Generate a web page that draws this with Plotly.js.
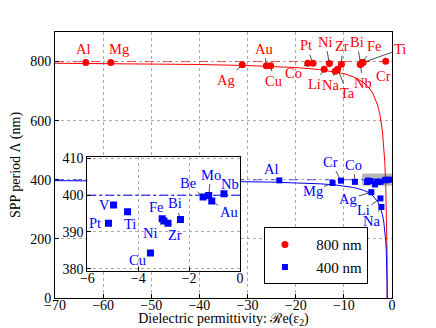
<!DOCTYPE html>
<html>
<head>
<meta charset="utf-8">
<script src="https://cdn.plot.ly/plotly-3.0.1.min.js"></script>
<style>html,body{margin:0;padding:0;background:#fff;}#chart{width:436px;height:328px;}</style>
</head>
<body>
<div id="chart"></div>
<script>
// ---- data ----
const metals800 = ['Al','Mg','Ag','Au','Cu','Co','Pt','Ni','Li','Na','Ta','Zr','Bi','Nb','Fe','Ti','Cr'];
const eps800    = [-63.6,-58.4,-31.1,-26.1,-25.2,-17.5,-16.4,-13.0,-14.1,-11.8,-11.3,-10.5,-6.5,-6.6,-6.2,-6.0,-1.3];
const period800 = [797,797,789,786,786,794,794,793,774,767,774,791,792,790,797,797,801];

const metals400 = ['Al','Mg','Cr','Co','Ag','Li','Na','V','Pt','Ti','Fe','Ni','Zr','Bi','Cu','Be','Mo','Au','Nb'];
const eps400    = [-23.4,-12.35,-10.6,-7.7,-4.3,-2.4,-2.2,-4.97,-5.17,-4.42,-3.06,-2.99,-2.83,-2.34,-3.52,-1.45,-1.23,-1.11,-0.63];
const period400 = [398,389,397,393,358,337,308,397.3,392.4,395.5,393.6,393.0,392.4,393.4,384.3,399.5,399.9,398.4,400.4];

// theoretical SPP period curves
const curveEps  = [-70,-60,-50,-40,-30,-25,-20,-15,-12,-10,-8,-6,-5,-4,-3,-2.5,-2,-1.7,-1.5,-1.3,-1.2,-1.1,-1.05,-1.02,-1.0];
const curve800  = [794.3,793.3,792,790,786.5,784,779.7,772.9,766,759,748,730,715.5,693,653,620,566,513,462,384,327,241,174.6,112,0];
const curve400  = [397,396.7,396,395,393.3,392,390,386.4,383,379.5,374,365,357.8,346.4,326.6,310,283,256.6,231,192,163,120.6,87.3,56,0];
const refLambda = [800, 400];
const legendNames = ['800 nm', '400 nm'];
const xTicks = [-70,-60,-50,-40,-30,-20,-10,0];
const yTicks = [0,200,400,600,800];
const insetXTicks = [-6,-4,-2,0];
const insetYTicks = [380,390,400,410];
const zoomBox = {x0:-6.2, x1:0, y0:380, y1:421};

// ---- label placement (pixel offsets text-centre minus point, line flag) ----
const lab800 = {Al:[-2,-13,0],Mg:[8,-13,0],Ag:[-16,15,1],Au:[-2,-17,1],Cu:[3,15,1],Co:[-14,10,1],
  Pt:[-7,-18,1],Ni:[-4,-22,1],Li:[-10,15,1],Na:[-5,14,1],Ta:[10,24,1],Zr:[1,-18,1],Bi:[-4,-22,1],
  Nb:[3,18,1],Fe:[12,-16,1],Ti:[37,-13,1],Cr:[-2,15,0]};
const lab400 = {Al:[-8,-11,0],Mg:[-20,8,1],Cr:[-10,-19,1],Co:[-1,-17,1],Ag:[-23,7,1],Li:[-17,12,1],Na:[-10,14,1]};
const labInset = {V:[-9,0,0],Pt:[-13,0,0],Ti:[2,12,0],Fe:[-6,-12,0],Ni:[-13,12,1],Zr:[7,12,1],Bi:[-5,-16,1],
  Cu:[-13,7,0],Be:[-15,-14,1],Mo:[2,-21,1],Au:[17,11,1],Nb:[6,-10,0]};

const RED = '#ff0000', BLUE = '#0000ff';
const FONT = '"Liberation Serif", "Times New Roman", serif';

const traces = [
  {x: curveEps, y: curve800, mode:'lines', line:{color:RED, width:1}, showlegend:false, hoverinfo:'skip'},
  {x: curveEps, y: curve400, mode:'lines', line:{color:BLUE, width:1}, showlegend:false, hoverinfo:'skip'},
  {x: [-70, 0], y: [refLambda[0], refLambda[0]], mode:'lines', line:{color:'rgba(255,0,0,0.6)', width:1, dash:'dash'}, showlegend:false},
  {x: [-70, 0], y: [refLambda[1], refLambda[1]], mode:'lines', line:{color:'rgba(0,0,255,0.6)', width:1, dash:'dash'}, showlegend:false},
  {x: eps800, y: period800, mode:'markers', name:'\u00a0\u00a0\u00a0' + legendNames[0], marker:{color:RED, symbol:'circle', size:7}},
  {x: eps400, y: period400, mode:'markers', name:'\u00a0\u00a0\u00a0' + legendNames[1], marker:{color:BLUE, symbol:'square', size:6}},
  // inset
  {x: [-6, 0], y: [refLambda[1], refLambda[1]], xaxis:'x2', yaxis:'y2', mode:'lines', line:{color:BLUE, width:1, dash:'dashdot'}, showlegend:false},
  {x: eps400, y: period400, xaxis:'x2', yaxis:'y2', mode:'markers', showlegend:false, marker:{color:BLUE, symbol:'square', size:7}}
];

const annotations = [];
function addLabels(names, xs, ys, table, color, xref, yref) {
  names.forEach((n, i) => {
    const o = table[n];
    if (!o) return;
    annotations.push({x: xs[i], y: ys[i], xref: xref, yref: yref, text: n, showarrow: true,
      ax: o[0], ay: o[1], arrowhead: 0, arrowwidth: 0.8, standoff: 3,
      arrowcolor: o[2] ? '#222' : 'rgba(0,0,0,0)',
      font: {color: color, size: 14.5, family: FONT}});
  });
}
addLabels(metals800, eps800, period800, lab800, RED, 'x', 'y');
addLabels(metals400, eps400, period400, lab400, BLUE, 'x', 'y');
addLabels(metals400, eps400, period400, labInset, BLUE, 'x2', 'y2');

const axisCommon = {showline:true, linecolor:'#000', linewidth:1, mirror:true, ticks:'inside', ticklen:4,
  tickcolor:'#000', zeroline:false, showgrid:true, gridcolor:'#aaa', griddash:'dot', gridwidth:1,
  tickfont:{size:14, family:FONT, color:'#000'}};

const layout = {
  width:436, height:328, margin:{l:55, r:44, t:32, b:30},
  paper_bgcolor:'#fff', plot_bgcolor:'#fff',
  font:{family:FONT, size:14, color:'#000'},
  xaxis: Object.assign({}, axisCommon, {range:[-70,0], tickvals:xTicks, ticktext:xTicks.map(v=>v<0?'\u2212'+(-v):''+v),
    ticklabelstandoff:-6,
    title:{text:'Dielectric permittivity: \u211Be(\u03B5<sub>2</sub>)', font:{size:14, family:FONT}, standoff:4}}),
  yaxis: Object.assign({}, axisCommon, {range:[0,900], tickvals:yTicks,
    title:{text:'SPP period \u039B (nm)', font:{size:14, family:FONT}, standoff:6}}),
  xaxis2: Object.assign({}, axisCommon, {domain:[0.096,0.549], anchor:'y2', range:[-6,0], tickvals:insetXTicks,
    ticklabelstandoff:-5, ticktext:insetXTicks.map(v=>v<0?'\u2212'+(-v):''+v)}),
  yaxis2: Object.assign({}, axisCommon, {domain:[0.103,0.529], anchor:'x2', range:[379.5,410.3], tickvals:insetYTicks}),
  shapes:[{type:'rect', xref:'x', yref:'y', x0:zoomBox.x0, x1:zoomBox.x1, y0:zoomBox.y0, y1:zoomBox.y1,
    fillcolor:'rgba(120,120,120,0.55)', line:{width:0}, layer:'below'}],
  annotations: annotations,
  legend:{x:0.62, y:0.266, xanchor:'left', yanchor:'top', bgcolor:'#fff', bordercolor:'#000', borderwidth:1,
    font:{size:15, family:FONT}, itemwidth:30, tracegroupgap:0}
};

Plotly.newPlot('chart', traces, layout, {displayModeBar:false, staticPlot:true});
</script>
</body>
</html>
